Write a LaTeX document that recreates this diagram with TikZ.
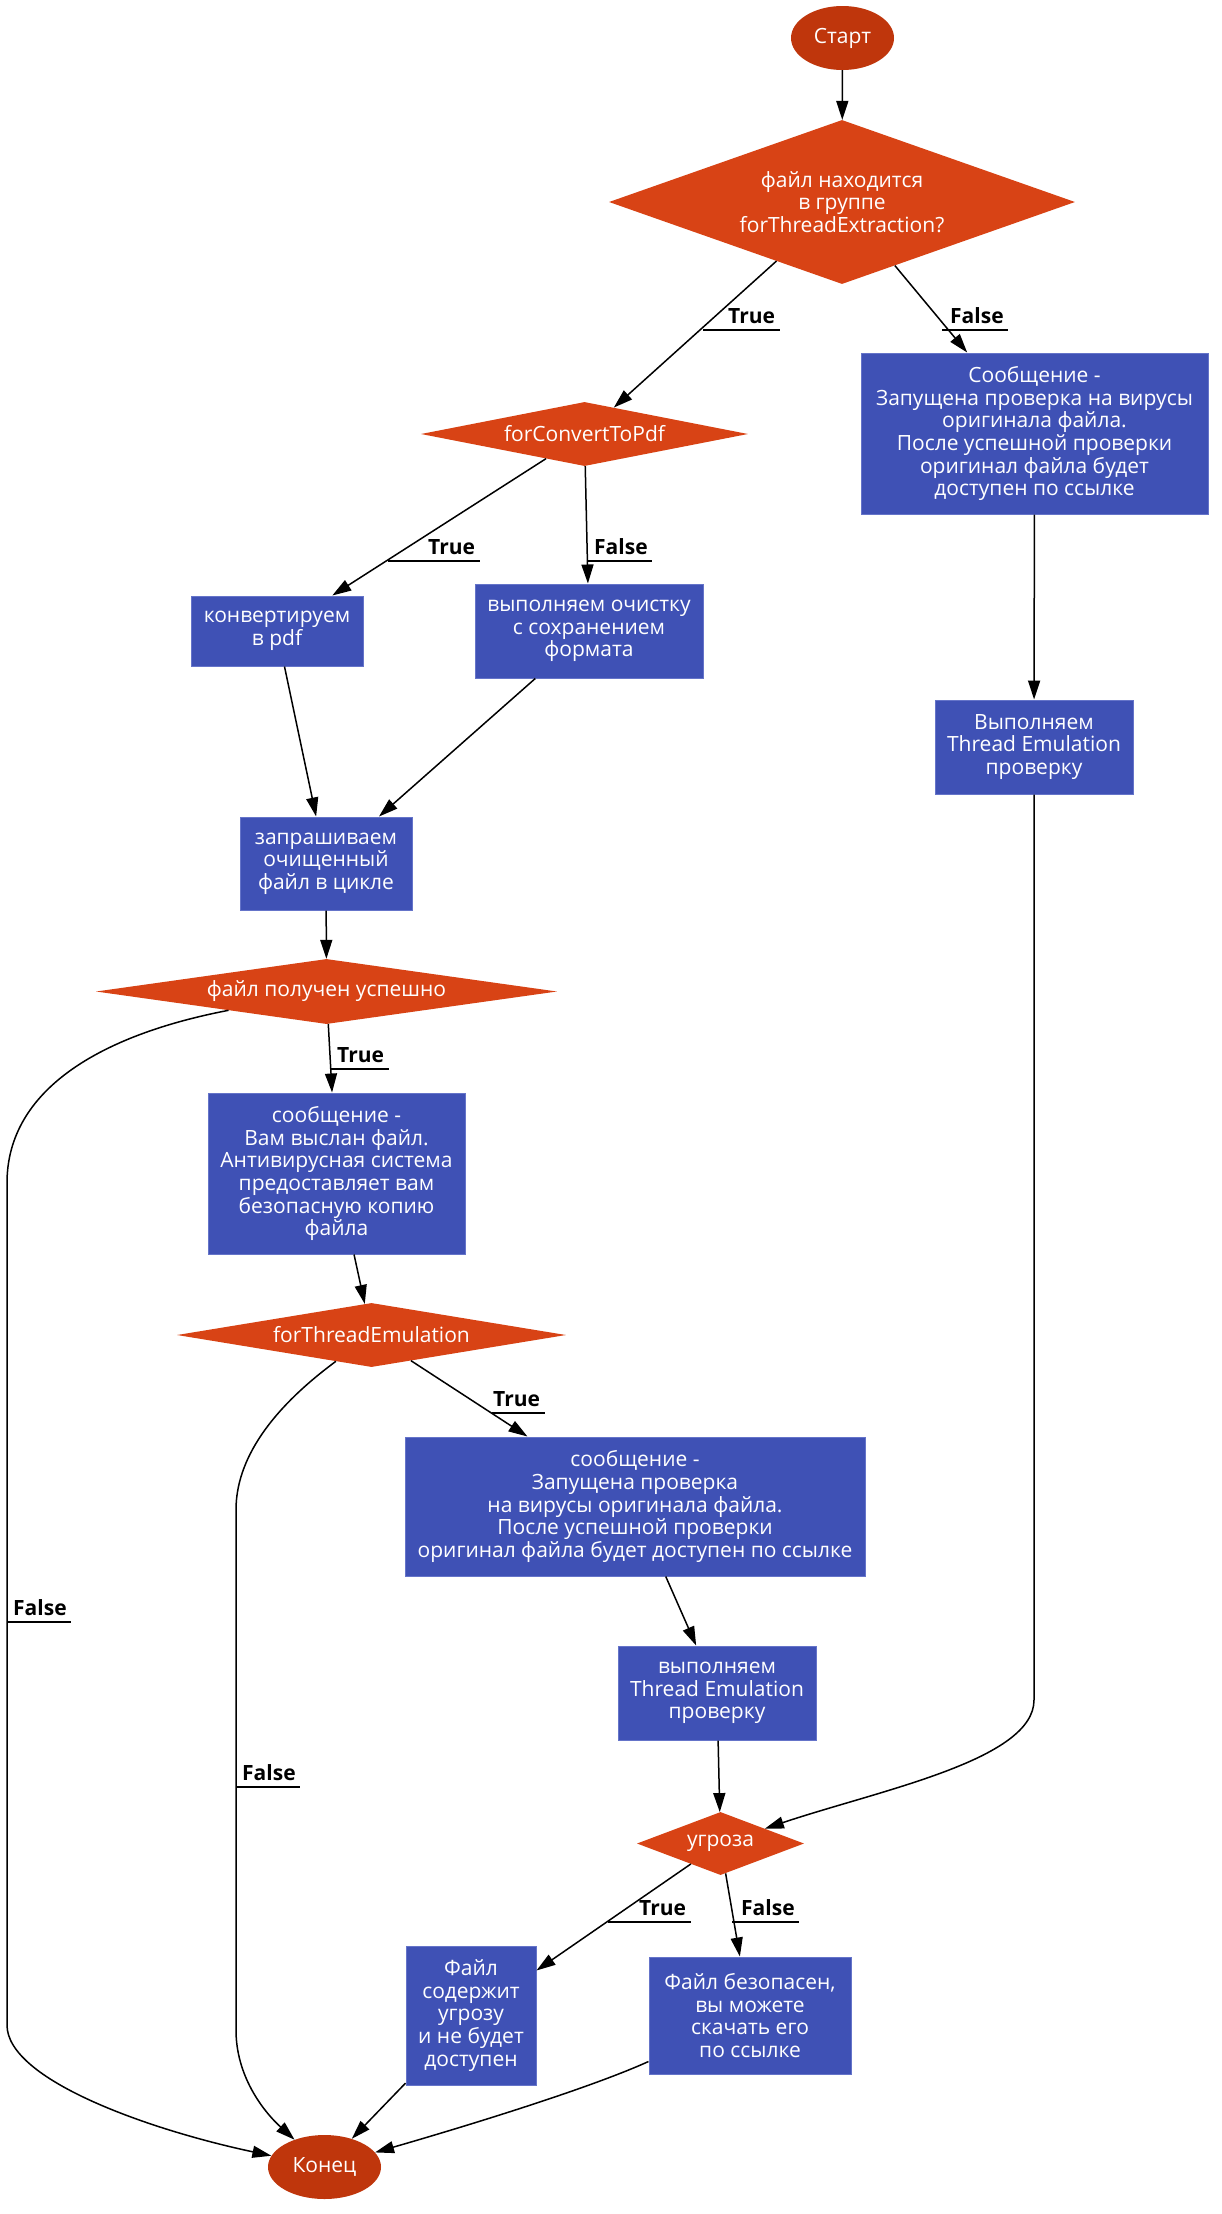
\documentclass[tikz,border=0pt]{standalone}
\usepackage{fontspec}
\setmainfont{Open Sans}
\usetikzlibrary{shapes.geometric,arrows.meta,calc}
\definecolor{boxblue}{HTML}{3F51B5}
\definecolor{boxedge}{HTML}{6574C9}
\definecolor{diaorange}{HTML}{D84315}
\definecolor{termred}{HTML}{BF360C}
\begin{document}
\begin{tikzpicture}[x=1pt,y=-1pt,
  every node/.style={font=\fontsize{21}{22.65}\selectfont},
  box/.style={rectangle, fill=boxblue, draw=boxedge, line width=1pt, text=white, align=center, inner sep=0pt},
  dia/.style={diamond, fill=diaorange, text=white, align=center, inner sep=0pt},
  term/.style={ellipse, fill=termred, text=white, inner sep=0pt},
  conn/.style={draw=black, line width=1.5pt, -{Triangle[length=19pt,width=12pt]}},
  lbl/.style={font=\bfseries\fontsize{21}{22.65}\selectfont, text=black, anchor=south west, inner xsep=4.5pt, inner ysep=1.5pt, text depth=5pt},
  uline/.style={draw=black, line width=1.5pt}]
\fill[white] (0,0) rectangle (1222,2214);
\useasboundingbox (0,0) rectangle (1222,2214);

% nodes
\node[term, minimum width=103pt, minimum height=64pt] (start) at (842.5,38) {Старт};
\node[dia, minimum width=466pt, minimum height=164pt, shape aspect=2.84] (d1) at (842,202) {файл находится\\в группе\\forThreadExtraction?};
\node[dia, minimum width=327pt, minimum height=64pt, shape aspect=5.1] (d2) at (584.5,434) {forConvertToPdf};
\node[box, minimum width=347pt, minimum height=161pt] (msg1) at (1034.5,433.5) {Сообщение -\\Запущена проверка на вирусы\\оригинала файла.\\После успешной проверки\\оригинал файла будет\\доступен по ссылке};
\node[box, minimum width=172pt, minimum height=70pt] (conv) at (277,631) {конвертируем\\в pdf};
\node[box, minimum width=228pt, minimum height=94pt] (clean) at (589,631) {выполняем очистку\\с сохранением\\формата};
\node[box, minimum width=198pt, minimum height=94pt] (te1) at (1034,747) {Выполняем\\Thread Emulation\\проверку};
\node[box, minimum width=172pt, minimum height=93pt] (req) at (326,863.5) {запрашиваем\\очищенный\\файл в цикле};
\node[dia, minimum width=461pt, minimum height=65pt, shape aspect=7.1] (d3) at (326.5,991.5) {файл получен успешно};
\node[box, minimum width=257pt, minimum height=161pt] (sent) at (336.5,1173.5) {сообщение -\\Вам выслан файл.\\Антивирусная система\\предоставляет вам\\безопасную копию\\файла};
\node[dia, minimum width=389pt, minimum height=64pt, shape aspect=6.08] (d4) at (371.5,1335) {forThreadEmulation};
\node[box, minimum width=460pt, minimum height=139pt] (msg2) at (635,1506.5) {сообщение -\\Запущена проверка\\на вирусы оригинала файла.\\После успешной проверки\\оригинал файла будет доступен по ссылке};
\node[box, minimum width=198pt, minimum height=94pt] (te2) at (717,1693) {выполняем\\Thread Emulation\\проверку};
\node[dia, minimum width=167pt, minimum height=63pt, shape aspect=2.65] (d5) at (720.5,1843.5) {угроза};
\node[box, minimum width=130pt, minimum height=139pt] (threat) at (471,2015.5) {Файл\\содержит\\угрозу\\и не будет\\доступен};
\node[box, minimum width=202pt, minimum height=117pt] (safe) at (750,2015.5) {Файл безопасен,\\вы можете\\скачать его\\по ссылке};
\node[term, minimum width=113pt, minimum height=64pt] (end) at (324.5,2167) {Конец};

% connectors
\draw[conn] (start) -- (d1);
\draw[conn] (d1) -- (d2);
\draw[conn] (d1) -- (msg1);
\draw[conn] (d2) -- (conv);
\draw[conn] (d2) -- (clean);
\draw[conn] (msg1) -- (te1);
\draw[conn] (conv) -- (req);
\draw[conn] (clean) -- (req);
\draw[conn] (req) -- (d3);
\draw[conn] (d3) -- (sent);
\draw[conn] (d3) .. controls (100,1035) and (7,1090) .. (7,1183) -- (7,2025) .. controls (7,2080) and (150,2130) .. (end);
\draw[conn] (sent) -- (d4);
\draw[conn] (d4) -- (msg2);
\draw[conn] (d4) .. controls (270,1410) and (236,1460) .. (236,1510) -- (236,2030) .. controls (236,2075) and (262,2110) .. (end);
\draw[conn] (msg2) -- (te2);
\draw[conn] (te2) -- (d5);
\draw[conn] (te1) -- (1034,1700) .. controls (1034,1760) and (880,1790) .. (d5);
\draw[conn] (d5) -- (threat);
\draw[conn] (d5) -- (safe);
\draw[conn] (threat) -- (end);
\draw[conn] ($(safe.south west)+(0,-13)$) .. controls (590,2088) and (470,2125) .. (end);

% labels
\node[lbl] (l1) at (723.5,330) {True};
\draw[uline] (703,330) -- (l1.south east);
\node[lbl] (l2) at (945.5,330) {False};
\draw[uline] (942,330) -- (l2.south east);
\node[lbl] (l3) at (423.5,561) {True};
\draw[uline] (388,561) -- (l3.south east);
\node[lbl] (l4) at (589.5,561) {False};
\draw[uline] (587,561) -- (l4.south east);
\node[lbl] (l5) at (332.5,1069) {True};
\draw[uline] (331,1069) -- (l5.south east);
\node[lbl] (l6) at (8.5,1622) {False};
\draw[uline] (7,1622) -- (l6.south east);
\node[lbl] (l7) at (488.5,1413) {True};
\draw[uline] (492,1413) -- (l7.south east);
\node[lbl] (l8) at (237.5,1787) {False};
\draw[uline] (236,1787) -- (l8.south east);
\node[lbl] (l9) at (634.5,1922) {True};
\draw[uline] (608,1922) -- (l9.south east);
\node[lbl] (l10) at (736.5,1922) {False};
\draw[uline] (732,1922) -- (l10.south east);
\end{tikzpicture}
\end{document}
